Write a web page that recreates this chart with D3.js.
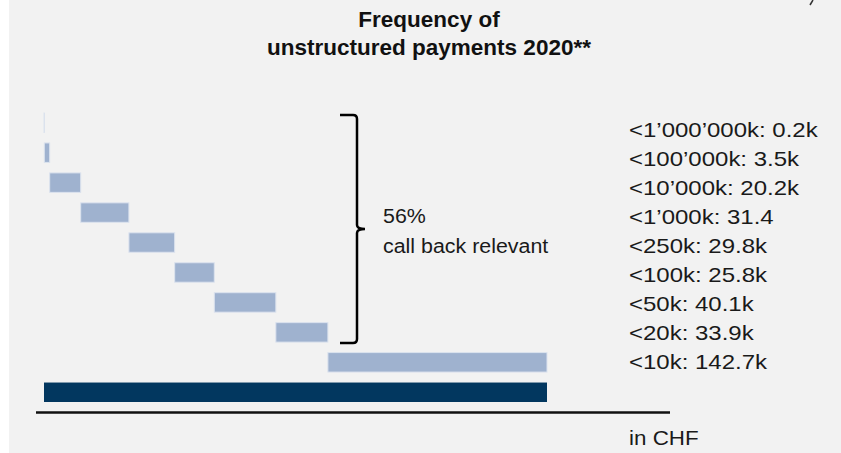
<!DOCTYPE html>
<html lang="en">
<head>
    <meta charset="UTF-8">
    <title>Frequency of unstructured payments 2020</title>
    <style>
        body { margin: 0; background: #ffffff; }
        svg text { font-family: 'Liberation Sans', Arial, sans-serif; }
    </style>
    <script src="https://d3js.org/d3.v7.min.js"></script>
</head>
<body>
    <svg width="841" height="453"></svg>
    <script>
        const categories = ["<1’000’000k", "<100’000k", "<10’000k", "<1’000k", "<250k", "<100k", "<50k", "<20k", "<10k"];
        const values = [0.2, 3.5, 20.2, 31.4, 29.8, 25.8, 40.1, 33.9, 142.7];
        const units = ["k", "k", "k", "", "k", "k", "k", "k", "k"];
        const bracketText = ["56%", "call back relevant"];

        const width = 841, height = 453;
        const svg = d3.select("svg").attr("width", width).attr("height", height);

        svg.append("rect")
            .attr("x", 9).attr("y", 0)
            .attr("width", width - 9).attr("height", height)
            .attr("fill", "#f2f2f2");

        // waterfall: each bar starts where the previous ended
        let acc = 0;
        const steps = values.map((v, i) => {
            const s = { key: categories[i], x0: acc, x1: acc + v };
            acc += v;
            return s;
        });
        const total = acc;
        const rows = categories.concat(["total"]);

        const x = d3.scaleLinear().domain([0, total]).range([44, 547]);
        const y = d3.scaleBand().domain(rows).range([113, 402]).paddingInner(0.35).paddingOuter(0);
        const yLabel = d3.scalePoint().domain(categories).range([137, 369]);

        svg.selectAll("rect.step")
            .data(steps)
            .enter().append("rect")
            .attr("class", "step")
            .attr("x", d => x(d.x0))
            .attr("y", d => y(d.key))
            .attr("width", d => x(d.x1) - x(d.x0))
            .attr("height", y.bandwidth())
            .attr("fill", "#9fb2cf")
            .attr("stroke", "#dce3ee")
            .attr("stroke-width", 1);

        svg.append("rect")
            .attr("x", x(0))
            .attr("y", y("total"))
            .attr("width", x(total) - x(0))
            .attr("height", y.bandwidth())
            .attr("fill", "#02375f");

        // baseline
        svg.append("line")
            .attr("x1", 36).attr("x2", 670)
            .attr("y1", 412.5).attr("y2", 412.5)
            .attr("stroke", "#111")
            .attr("stroke-width", 2.5);

        // right side labels
        svg.selectAll("text.lbl")
            .data(categories)
            .enter().append("text")
            .attr("class", "lbl")
            .attr("transform", d => `translate(629, ${yLabel(d)}) scale(1.2, 1)`)
            .style("font-size", "20px")
            .style("fill", "#1a1a1a")
            .text((d, i) => `${d}: ${values[i]}${units[i]}`);

        svg.append("text")
            .attr("transform", "translate(629, 445) scale(1.12, 1)")
            .style("font-size", "20px")
            .style("fill", "#1a1a1a")
            .text("in CHF");

        // brace over the rows above 10k
        const bTop = y(categories[0]) + 2;
        const bBot = y(categories[categories.length - 2]) + y.bandwidth() + 1;
        const bMid = (bTop + bBot) / 2;
        const bx = 357, r = 4;
        svg.append("path")
            .attr("d", `M340,${bTop} L${bx - r},${bTop} Q${bx},${bTop} ${bx},${bTop + r}
                        L${bx},${bMid - r} Q${bx},${bMid} ${bx + 8},${bMid}
                        Q${bx},${bMid} ${bx},${bMid + r}
                        L${bx},${bBot - r} Q${bx},${bBot} ${bx - r},${bBot} L340,${bBot}`)
            .attr("fill", "none")
            .attr("stroke", "#000")
            .attr("stroke-width", 2.5);

        svg.selectAll("text.brk")
            .data(bracketText)
            .enter().append("text")
            .attr("class", "brk")
            .attr("transform", (d, i) => `translate(383, ${223 + i * 30}) scale(1.07, 1)`)
            .style("font-size", "20px")
            .style("fill", "#1a1a1a")
            .text(d => d);

        // title
        svg.append("text")
            .attr("x", 429).attr("y", 27)
            .attr("text-anchor", "middle")
            .style("font-size", "22.5px")
            .style("font-weight", "700")
            .style("fill", "#111")
            .text("Frequency of");

        svg.append("text")
            .attr("x", 429).attr("y", 55)
            .attr("text-anchor", "middle")
            .style("font-size", "22.5px")
            .style("font-weight", "700")
            .style("fill", "#111")
            .text("unstructured payments 2020**");

        // cut-off glyph in the top right corner
        svg.append("line")
            .attr("x1", 813).attr("y1", 0)
            .attr("x2", 810).attr("y2", 5)
            .attr("stroke", "#333")
            .attr("stroke-width", 1.5);
    </script>
</body>
</html>
